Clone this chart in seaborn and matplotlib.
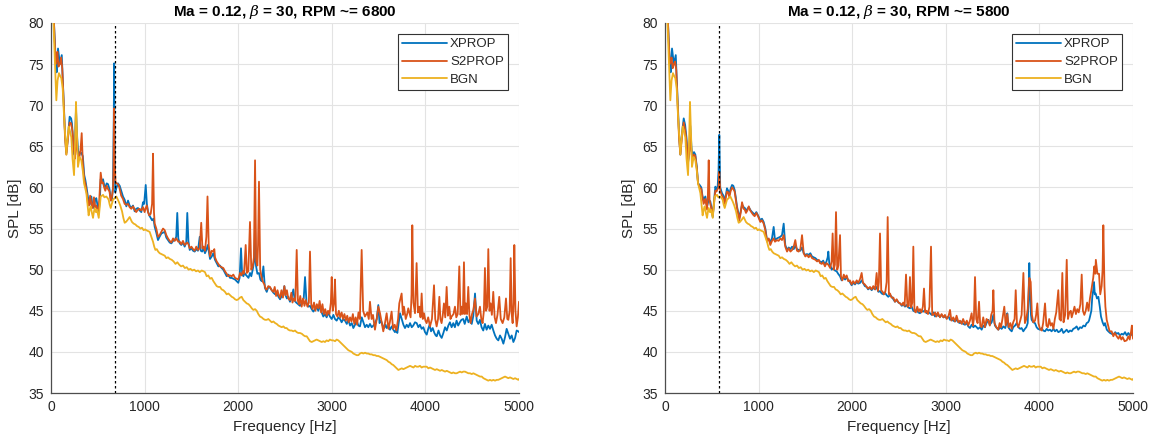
import matplotlib
matplotlib.use("Agg")
import matplotlib.pyplot as plt
import seaborn as sns
import pandas as pd

# ---------------- data ----------------
titles = ["Ma = 0.12, $\\beta$ = 30, RPM ~= 6800", "Ma = 0.12, $\\beta$ = 30, RPM ~= 5800"]
bpf_lines = [680, 580]
series_names = ["XPROP", "S2PROP", "BGN"]
xticks = [0, 1000, 2000, 3000, 4000, 5000]
yticks = [35, 40, 45, 50, 55, 60, 65, 70, 75, 80]

# background noise (same measurement in both panels)
bgn = [(0, 86), (25, 80.5), (40, 76), (57, 70.6), (70, 73.0), (85, 73.9), (100, 73.5), (110, 73.3),
       (125, 72.0), (140, 68.5), (164, 64.0), (178, 66.0), (189, 67.4), (200, 67.0), (217, 66.1),
       (230, 63.5), (246, 61.5), (255, 64.5), (267, 70.4), (278, 66.5), (288, 62.5), (306, 63.7),
       (324, 63.3), (340, 62.0), (353, 60.5), (378, 59.3), (390, 58.0), (402, 56.6), (413, 57.3),
       (424, 57.7), (437, 56.9), (449, 56.3), (458, 57.0), (467, 57.5), (480, 57.0), (491, 57.3),
       (500, 56.8), (510, 56.3), (520, 57.5), (531, 58.9), (545, 59.0), (556, 59.1), (570, 58.8),
       (591, 58.9), (605, 58.7), (616, 58.5), (627, 57.9), (638, 57.5), (650, 58.0), (662, 58.5),
       (680, 58.7), (698, 58.9), (710, 58.6), (723, 58.3), (740, 57.8), (759, 57.1), (773, 56.3),
       (787, 55.7), (800, 55.8), (815, 56.0), (828, 56.2), (840, 56.4), (852, 56.1), (865, 55.8),
       (883, 55.6), (901, 55.5), (919, 55.3), (937, 55.2), (955, 55.0), (972, 55.1), (990, 54.8),
       (1005, 54.9), (1018, 54.8), (1036, 54.7), (1054, 54.6), (1072, 54.0), (1090, 53.4),
       (1103, 52.8), (1115, 52.4), (1130, 52.5), (1145, 52.2), (1161, 52.0), (1180, 51.9),
       (1197, 51.8), (1215, 51.7), (1232, 51.4), (1250, 51.5), (1270, 51.3), (1290, 51.2),
       (1310, 51.0), (1330, 50.7), (1350, 50.9), (1370, 50.6), (1390, 50.4), (1410, 50.5),
       (1430, 50.2), (1450, 50.3), (1470, 50.0), (1490, 50.1), (1510, 49.9), (1530, 50.0),
       (1550, 49.8), (1570, 49.9), (1590, 49.7), (1610, 49.9), (1630, 49.8), (1645, 49.7),
       (1663, 49.2), (1680, 49.3), (1700, 48.9), (1717, 49.0), (1735, 48.6), (1752, 48.3),
       (1770, 48.0), (1788, 47.9), (1806, 47.9), (1823, 47.6), (1841, 47.5), (1859, 47.3),
       (1877, 47.0), (1895, 47.1), (1913, 46.9), (1931, 46.7), (1948, 46.6), (1966, 46.4),
       (1984, 46.3), (2001, 46.4), (2019, 46.6), (2037, 46.7), (2055, 46.3), (2073, 46.1),
       (2091, 45.9), (2110, 45.8), (2126, 45.6), (2145, 45.3), (2162, 45.1), (2180, 45.2),
       (2198, 45.0), (2215, 44.6), (2233, 44.3), (2251, 44.2), (2270, 44.0), (2287, 43.9),
       (2305, 43.9), (2322, 44.0), (2340, 43.8), (2358, 43.6), (2376, 43.7), (2395, 43.5),
       (2412, 43.4), (2430, 43.2), (2447, 43.1), (2465, 43.0), (2483, 43.1), (2500, 42.9),
       (2518, 42.9), (2535, 42.7), (2553, 42.6), (2571, 42.6), (2589, 42.5), (2607, 42.6),
       (2625, 42.4), (2642, 42.3), (2660, 42.3), (2680, 42.2), (2700, 42.0), (2715, 41.9),
       (2732, 41.9), (2750, 41.6), (2767, 41.3), (2785, 41.2), (2803, 41.3), (2820, 41.4),
       (2838, 41.5), (2856, 41.4), (2874, 41.3), (2892, 41.2), (2910, 41.3), (2927, 41.2),
       (2945, 41.4), (2963, 41.3), (2980, 41.5), (2999, 41.4), (3017, 41.4), (3035, 41.3),
       (3052, 41.5), (3070, 41.4), (3088, 41.2), (3105, 41.0), (3123, 40.8), (3141, 40.6),
       (3160, 40.4), (3177, 40.2), (3195, 40.1), (3213, 40.0), (3230, 39.8), (3248, 39.7),
       (3266, 39.6), (3284, 39.6), (3301, 39.8), (3320, 39.9), (3337, 39.8), (3355, 39.9),
       (3373, 39.8), (3390, 39.8), (3408, 39.7), (3426, 39.7), (3444, 39.6), (3462, 39.6),
       (3480, 39.5), (3497, 39.5), (3515, 39.4), (3533, 39.3), (3550, 39.2), (3568, 39.1),
       (3587, 39.0), (3605, 38.8), (3622, 38.7), (3640, 38.5), (3657, 38.4), (3675, 38.2),
       (3693, 38.0), (3711, 37.8), (3729, 37.9), (3747, 38.0), (3765, 37.9), (3782, 38.0),
       (3800, 38.1), (3818, 38.2), (3836, 38.3), (3854, 38.2), (3872, 38.1), (3890, 38.3),
       (3907, 38.2), (3924, 38.2), (3942, 38.3), (3960, 38.1), (3978, 38.2), (3996, 38.2),
       (4014, 38.2), (4032, 38.0), (4050, 38.1), (4068, 38.0), (4086, 37.9), (4103, 37.8),
       (4121, 37.9), (4140, 37.8), (4157, 37.7), (4174, 37.8), (4192, 37.7), (4210, 37.6),
       (4228, 37.7), (4245, 37.6), (4263, 37.5), (4281, 37.4), (4298, 37.5), (4316, 37.4),
       (4334, 37.4), (4352, 37.5), (4370, 37.6), (4388, 37.5), (4405, 37.6), (4423, 37.6),
       (4441, 37.5), (4459, 37.4), (4477, 37.4), (4495, 37.3), (4512, 37.4), (4530, 37.3),
       (4548, 37.2), (4565, 37.1), (4583, 37.0), (4602, 37.0), (4620, 36.8), (4637, 36.7),
       (4655, 36.6), (4672, 36.5), (4690, 36.6), (4708, 36.5), (4726, 36.6), (4744, 36.5),
       (4762, 36.6), (4779, 36.6), (4797, 36.7), (4815, 36.8), (4833, 36.9), (4851, 37.0),
       (4868, 36.9), (4886, 36.8), (4904, 36.9), (4922, 36.8), (4940, 36.7), (4958, 36.8),
       (4975, 36.7), (4993, 36.6), (5000, 36.7)]

# left panel, RPM ~ 6800
xprop_6800 = [(0, 86), (30, 80.5), (50, 75.5), (60, 74.0), (75, 76.9), (95, 75.0), (115, 76.1),
              (130, 72.0), (150, 66.5), (164, 64.2), (180, 66.0), (199, 68.6), (215, 68.4),
              (224, 67.8), (240, 65.0), (250, 64.0), (267, 69.5), (280, 66.0), (296, 63.5),
              (310, 64.3), (324, 64.2), (340, 63.8), (355, 61.5), (367, 60.9), (380, 60.0),
              (395, 58.8), (413, 57.9), (431, 58.9), (445, 57.6), (459, 57.5), (472, 58.5),
              (484, 58.7), (497, 57.8), (510, 57.0), (522, 58.5), (531, 61.0), (545, 60.6),
              (556, 61.0), (568, 60.3), (580, 60.0), (595, 60.5), (609, 60.4), (625, 59.8),
              (638, 58.6), (650, 58.4), (662, 60.0), (670, 68.0), (675, 75.1), (680, 66.0),
              (686, 59.4), (700, 60.0), (716, 60.5), (734, 60.2), (750, 59.6), (769, 58.9),
              (787, 58.5), (805, 57.7), (823, 58.4), (840, 57.8), (858, 57.5), (876, 57.8),
              (894, 57.1), (910, 57.4), (929, 57.5), (947, 57.2), (965, 57.0), (983, 58.2),
              (995, 58.0), (1012, 60.3), (1024, 58.0), (1036, 57.1), (1050, 56.6), (1065, 56.3),
              (1080, 56.0), (1095, 56.2), (1108, 55.2), (1125, 54.5), (1143, 53.6), (1160, 54.0),
              (1179, 54.4), (1197, 54.5), (1215, 54.6), (1232, 53.9), (1250, 53.6), (1268, 53.3),
              (1286, 53.2), (1304, 53.5), (1322, 53.6), (1338, 54.0), (1349, 56.9), (1360, 53.8),
              (1375, 53.2), (1392, 53.0), (1410, 53.3), (1428, 52.8), (1445, 53.3), (1456, 56.9),
              (1468, 53.5), (1482, 52.4), (1500, 52.6), (1518, 52.3), (1535, 52.2), (1552, 52.5),
              (1570, 52.3), (1589, 54.0), (1600, 52.3), (1615, 52.2), (1630, 52.6), (1645, 52.0),
              (1660, 52.4), (1675, 53.0), (1699, 51.3), (1717, 51.6), (1734, 52.0), (1752, 51.2),
              (1770, 50.8), (1788, 50.4), (1805, 50.5), (1823, 50.2), (1841, 50.0), (1859, 49.6),
              (1877, 49.2), (1895, 49.4), (1913, 49.0), (1931, 49.0), (1948, 48.9), (1966, 48.8),
              (1984, 48.6), (2001, 48.4), (2015, 49.0), (2030, 52.6), (2042, 49.5), (2055, 49.2),
              (2068, 49.6), (2080, 49.4), (2095, 49.2), (2110, 49.0), (2126, 49.6), (2140, 49.2),
              (2155, 50.0), (2170, 51.0), (2180, 55.3), (2190, 50.5), (2205, 49.5), (2222, 49.6),
              (2237, 48.8), (2251, 48.6), (2269, 50.4), (2285, 47.8), (2305, 47.3), (2322, 47.9),
              (2340, 47.8), (2358, 47.5), (2376, 47.2), (2395, 47.0), (2412, 47.2), (2430, 46.7),
              (2447, 46.4), (2465, 46.8), (2480, 47.2), (2493, 48.0), (2505, 46.9), (2520, 46.5),
              (2535, 46.7), (2553, 46.1), (2570, 46.5), (2589, 47.6), (2605, 46.2), (2620, 46.0),
              (2640, 45.8), (2660, 45.6), (2680, 46.0), (2700, 46.5), (2714, 49.1), (2730, 46.0),
              (2750, 45.5), (2767, 45.6), (2785, 45.2), (2803, 44.9), (2820, 45.2), (2838, 45.4),
              (2856, 45.0), (2874, 45.6), (2892, 44.8), (2909, 44.3), (2927, 44.6), (2945, 44.2),
              (2963, 44.8), (2980, 44.3), (2999, 44.0), (3017, 44.5), (3034, 44.0), (3052, 43.8),
              (3070, 44.2), (3088, 44.0), (3105, 43.6), (3123, 44.0), (3141, 43.8), (3160, 43.4),
              (3177, 43.9), (3195, 43.2), (3213, 43.5), (3230, 42.9), (3248, 43.3), (3266, 43.8),
              (3284, 43.2), (3301, 43.1), (3320, 44.2), (3337, 43.6), (3355, 43.0), (3373, 43.3),
              (3390, 43.0), (3408, 43.4), (3426, 43.0), (3444, 43.2), (3462, 43.5), (3480, 44.0),
              (3497, 45.7), (3510, 43.5), (3526, 43.8), (3544, 43.2), (3560, 42.9), (3575, 43.3),
              (3587, 42.9), (3605, 43.2), (3622, 42.7), (3640, 43.1), (3657, 42.7), (3675, 42.4),
              (3690, 42.8), (3700, 42.3), (3715, 43.5), (3729, 44.7), (3747, 44.0), (3765, 43.3),
              (3782, 42.9), (3800, 43.3), (3818, 43.0), (3836, 43.5), (3854, 43.0), (3870, 43.2),
              (3889, 43.6), (3907, 43.5), (3925, 43.0), (3942, 43.3), (3960, 42.8), (3978, 43.0),
              (3996, 42.4), (4014, 42.1), (4030, 42.8), (4045, 43.3), (4060, 42.5), (4078, 42.9),
              (4096, 42.3), (4110, 42.0), (4121, 41.9), (4140, 42.6), (4157, 42.0), (4174, 41.7),
              (4192, 42.3), (4210, 43.0), (4228, 42.6), (4245, 43.2), (4262, 43.6), (4280, 43.0),
              (4298, 43.5), (4315, 43.0), (4333, 43.8), (4350, 43.2), (4368, 43.6), (4385, 43.9),
              (4404, 44.0), (4420, 43.4), (4441, 44.3), (4460, 43.6), (4478, 44.0), (4495, 43.4),
              (4512, 44.4), (4530, 47.1), (4548, 43.8), (4565, 43.4), (4583, 43.9), (4600, 43.0),
              (4618, 42.6), (4636, 43.4), (4654, 42.7), (4672, 43.2), (4690, 42.8), (4708, 43.3),
              (4726, 42.6), (4744, 42.0), (4762, 41.6), (4779, 41.4), (4797, 42.0), (4815, 41.6),
              (4833, 41.0), (4851, 41.8), (4868, 42.8), (4886, 42.2), (4904, 41.6), (4922, 42.0),
              (4940, 41.2), (4958, 41.7), (4975, 42.6), (4993, 42.5), (5000, 42.4)]

s2prop_6800 = [(0, 86), (30, 80.5), (50, 75.0), (60, 75.5), (68, 76.5), (80, 74.7), (95, 75.0),
               (108, 75.8), (120, 74.5), (135, 70.5), (150, 66.0), (164, 64.0), (180, 65.8),
               (199, 67.9), (215, 67.8), (230, 66.8), (245, 64.5), (255, 63.5), (270, 66.0),
               (285, 64.0), (300, 63.6), (315, 64.5), (328, 66.6), (340, 63.0), (355, 61.0),
               (370, 60.3), (385, 59.0), (395, 58.0), (405, 57.8), (418, 59.0), (431, 58.0),
               (445, 57.5), (459, 58.8), (472, 57.6), (484, 57.8), (497, 57.2), (510, 57.3),
               (520, 59.5), (531, 61.8), (545, 60.5), (556, 60.6), (568, 60.0), (580, 59.6),
               (595, 60.2), (609, 59.8), (625, 59.5), (638, 58.4), (650, 58.8), (662, 59.8),
               (668, 62.0), (673, 69.6), (680, 63.0), (690, 60.5), (702, 60.5), (716, 60.4),
               (730, 60.0), (750, 59.0), (769, 58.6), (787, 58.0), (805, 57.9), (823, 58.0),
               (840, 57.6), (858, 57.4), (876, 57.7), (894, 57.3), (910, 57.0), (929, 57.3),
               (947, 57.4), (965, 57.2), (983, 57.6), (1000, 57.0), (1012, 57.5), (1024, 57.8),
               (1036, 57.0), (1050, 56.6), (1065, 56.8), (1080, 58.0), (1090, 64.1), (1100, 57.0),
               (1108, 55.6), (1125, 55.0), (1143, 54.0), (1160, 54.2), (1179, 54.6), (1197, 55.0),
               (1215, 54.8), (1232, 54.2), (1250, 53.8), (1268, 53.5), (1286, 53.3), (1304, 53.8),
               (1322, 53.5), (1338, 53.8), (1349, 53.6), (1360, 53.4), (1375, 53.4), (1392, 53.1),
               (1410, 53.5), (1428, 53.0), (1445, 53.2), (1456, 53.3), (1468, 53.1), (1482, 52.6),
               (1500, 52.8), (1518, 52.5), (1535, 52.3), (1552, 52.8), (1570, 52.4), (1589, 52.6),
               (1605, 55.7), (1618, 52.6), (1630, 52.8), (1645, 52.3), (1660, 54.0), (1672, 58.9),
               (1685, 53.0), (1699, 51.6), (1717, 52.3), (1734, 52.2), (1745, 52.5), (1752, 51.5),
               (1770, 51.0), (1788, 50.7), (1805, 50.4), (1823, 50.3), (1841, 50.2), (1859, 49.8),
               (1877, 49.5), (1895, 49.2), (1913, 49.3), (1931, 49.2), (1948, 49.4), (1966, 49.0),
               (1984, 48.9), (2001, 48.8), (2020, 49.6), (2035, 49.3), (2050, 49.8), (2062, 49.5),
               (2080, 53.0), (2092, 49.6), (2108, 49.8), (2126, 55.8), (2140, 50.0), (2155, 50.4),
               (2168, 51.5), (2180, 63.3), (2192, 51.0), (2205, 50.5), (2212, 53.0), (2222, 60.7),
               (2235, 50.0), (2251, 49.0), (2265, 48.5), (2280, 48.2), (2295, 47.6), (2305, 47.6),
               (2322, 48.0), (2340, 47.9), (2358, 47.5), (2376, 47.3), (2390, 47.9), (2405, 46.8),
               (2420, 47.5), (2433, 46.9), (2447, 46.6), (2462, 47.5), (2478, 46.6), (2493, 48.0),
               (2505, 46.9), (2520, 47.5), (2535, 46.5), (2553, 46.3), (2568, 47.2), (2580, 46.0),
               (2595, 46.5), (2610, 46.2), (2625, 52.4), (2638, 46.2), (2650, 45.8), (2663, 46.8),
               (2678, 45.5), (2693, 46.5), (2708, 45.6), (2722, 46.3), (2740, 45.5), (2755, 46.0),
               (2767, 52.2), (2780, 45.8), (2795, 45.2), (2810, 46.0), (2825, 45.0), (2840, 45.8),
               (2856, 45.3), (2870, 46.2), (2886, 44.8), (2900, 45.8), (2915, 44.6), (2930, 45.2),
               (2945, 44.4), (2960, 45.0), (2975, 44.6), (2990, 46.0), (2999, 49.1), (3010, 45.0),
               (3025, 46.0), (3034, 48.8), (3045, 44.6), (3060, 44.3), (3075, 45.0), (3090, 44.2),
               (3105, 44.8), (3120, 44.0), (3135, 44.6), (3150, 43.8), (3165, 44.4), (3180, 43.6),
               (3195, 44.2), (3210, 43.7), (3225, 44.6), (3240, 43.4), (3255, 44.2), (3270, 43.3),
               (3285, 44.8), (3300, 44.0), (3319, 52.4), (3335, 45.0), (3354, 44.3), (3380, 44.8),
               (3395, 44.0), (3408, 46.1), (3425, 44.0), (3440, 44.5), (3461, 42.7), (3480, 44.0),
               (3497, 45.5), (3515, 44.7), (3532, 43.6), (3550, 42.5), (3568, 43.5), (3586, 44.7),
               (3605, 42.8), (3620, 43.6), (3639, 44.9), (3655, 42.8), (3672, 43.3), (3690, 42.6),
               (3708, 44.0), (3721, 45.9), (3746, 47.1), (3760, 44.5), (3771, 45.5), (3790, 44.0),
               (3805, 44.6), (3817, 45.3), (3842, 44.2), (3852, 47.0), (3860, 55.4), (3872, 46.0),
               (3889, 44.7), (3906, 50.8), (3920, 44.8), (3935, 45.5), (3948, 44.2), (3960, 47.1),
               (3972, 44.0), (3985, 44.7), (4000, 43.8), (4013, 43.5), (4030, 44.2), (4049, 43.1),
               (4070, 44.0), (4092, 48.1), (4105, 44.0), (4120, 43.1), (4135, 44.0), (4149, 46.7),
               (4160, 44.0), (4173, 43.5), (4185, 44.4), (4198, 45.9), (4212, 44.2), (4227, 47.9),
               (4240, 44.4), (4255, 45.5), (4268, 44.0), (4280, 44.3), (4300, 44.6), (4316, 45.5),
               (4330, 44.2), (4345, 44.6), (4362, 50.4), (4375, 44.5), (4387, 45.5), (4400, 44.6),
               (4412, 50.9), (4422, 44.6), (4433, 45.9), (4445, 44.6), (4458, 47.9), (4470, 44.5),
               (4483, 43.5), (4498, 44.6), (4512, 45.1), (4530, 46.5), (4547, 44.3), (4565, 44.6),
               (4583, 45.5), (4597, 44.0), (4611, 43.5), (4625, 45.0), (4636, 50.2), (4648, 45.0),
               (4661, 45.5), (4672, 52.5), (4685, 45.0), (4697, 45.9), (4710, 44.5), (4725, 47.3),
               (4740, 44.2), (4754, 43.5), (4770, 44.5), (4789, 46.7), (4805, 44.0), (4825, 43.5),
               (4843, 44.2), (4861, 46.5), (4875, 44.0), (4886, 43.9), (4900, 45.0), (4911, 51.4),
               (4922, 44.6), (4932, 43.5), (4942, 46.0), (4950, 53.0), (4962, 45.0), (4975, 43.1),
               (4988, 44.2), (5000, 46.1)]

# right panel, RPM ~ 5800
xprop_5800 = [(0, 86), (30, 80.5), (50, 75.5), (60, 74.0), (75, 76.9), (95, 75.0), (115, 76.1),
              (130, 72.0), (150, 66.5), (164, 64.0), (180, 66.5), (200, 68.4), (215, 67.6),
              (230, 66.0), (246, 63.0), (260, 64.5), (270, 67.5), (285, 64.5), (296, 63.7),
              (310, 64.3), (324, 64.0), (340, 62.5), (353, 60.5), (370, 60.3), (388, 60.0),
              (400, 59.0), (413, 58.5), (431, 58.9), (449, 57.7), (467, 58.5), (484, 58.3),
              (497, 57.5), (510, 56.4), (525, 58.5), (538, 60.1), (550, 59.8), (562, 60.0),
              (572, 62.0), (580, 66.4), (590, 60.0), (609, 59.3), (625, 59.0), (638, 58.3),
              (650, 59.0), (662, 59.9), (675, 59.6), (687, 59.1), (700, 59.8), (716, 60.3),
              (730, 60.2), (744, 59.7), (756, 58.8), (769, 57.7), (782, 57.0), (794, 56.3),
              (810, 57.2), (823, 57.9), (840, 57.6), (853, 57.5), (865, 57.1), (880, 57.4),
              (895, 57.6), (910, 57.3), (922, 57.1), (940, 56.9), (958, 56.7), (976, 57.0),
              (994, 56.6), (1018, 56.0), (1036, 56.2), (1054, 55.8), (1072, 55.0), (1090, 53.6),
              (1108, 53.7), (1125, 53.4), (1143, 53.8), (1161, 55.2), (1175, 53.6), (1196, 53.8),
              (1214, 53.9), (1232, 54.0), (1250, 54.2), (1268, 55.6), (1285, 53.0), (1304, 52.4),
              (1322, 52.7), (1340, 52.5), (1358, 52.8), (1375, 52.5), (1392, 52.9), (1410, 52.5),
              (1428, 52.4), (1446, 52.3), (1464, 52.7), (1482, 52.0), (1499, 51.8), (1517, 51.9),
              (1535, 51.8), (1553, 52.0), (1571, 51.6), (1589, 51.5), (1607, 51.4), (1625, 51.2),
              (1643, 51.1), (1656, 51.0), (1675, 50.9), (1690, 51.1), (1709, 50.6), (1725, 51.0),
              (1738, 51.5), (1745, 52.2), (1755, 50.8), (1770, 50.4), (1781, 50.0), (1800, 50.2),
              (1815, 49.9), (1834, 49.8), (1850, 49.5), (1870, 49.2), (1887, 48.7), (1905, 49.0),
              (1925, 48.8), (1941, 49.1), (1958, 48.7), (1975, 48.5), (1994, 48.1), (2010, 48.4),
              (2030, 48.2), (2048, 48.5), (2065, 48.3), (2085, 48.4), (2101, 48.7), (2120, 48.3),
              (2135, 48.0), (2155, 47.9), (2170, 47.6), (2190, 47.8), (2208, 47.5), (2225, 47.8),
              (2245, 47.6), (2261, 47.9), (2280, 47.3), (2297, 47.4), (2315, 47.1), (2335, 47.0),
              (2350, 47.2), (2368, 46.9), (2385, 46.7), (2404, 46.9), (2422, 46.7), (2440, 46.4),
              (2457, 46.1), (2475, 46.3), (2495, 46.0), (2511, 45.9), (2530, 45.6), (2545, 45.8),
              (2564, 45.5), (2580, 45.7), (2600, 45.4), (2617, 45.3), (2635, 45.5), (2653, 45.0),
              (2671, 44.9), (2690, 45.2), (2705, 44.8), (2724, 44.7), (2740, 45.0), (2760, 44.9),
              (2778, 45.1), (2795, 44.7), (2810, 44.9), (2831, 44.7), (2850, 44.5), (2867, 44.8),
              (2885, 44.3), (2900, 44.6), (2920, 44.4), (2938, 44.3), (2955, 44.5), (2975, 44.2),
              (2991, 44.3), (3010, 44.1), (3030, 44.3), (3045, 43.9), (3060, 44.0), (3080, 43.8),
              (3098, 43.7), (3115, 43.9), (3135, 43.6), (3152, 43.5), (3170, 43.7), (3185, 43.4),
              (3205, 43.3), (3225, 43.5), (3240, 43.1), (3258, 42.9), (3276, 43.3), (3295, 43.0),
              (3312, 43.2), (3330, 43.0), (3345, 42.8), (3365, 43.0), (3383, 42.7), (3400, 43.2),
              (3418, 43.0), (3435, 43.5), (3454, 43.9), (3470, 43.3), (3490, 43.6), (3508, 44.5),
              (3525, 43.2), (3545, 42.9), (3561, 42.7), (3580, 43.0), (3597, 42.8), (3615, 43.1),
              (3635, 42.9), (3648, 43.5), (3657, 44.7), (3668, 43.0), (3686, 42.7), (3704, 42.5),
              (3720, 43.0), (3740, 43.2), (3757, 43.5), (3775, 43.0), (3795, 42.8), (3810, 42.9),
              (3828, 42.5), (3845, 42.8), (3860, 43.0), (3875, 43.5), (3885, 47.0), (3892, 50.8),
              (3900, 47.0), (3910, 44.5), (3917, 43.9), (3935, 43.6), (3953, 43.5), (3970, 43.0),
              (3985, 42.8), (4006, 42.7), (4025, 42.9), (4040, 42.6), (4060, 42.5), (4078, 42.8),
              (4095, 42.6), (4113, 42.7), (4130, 42.5), (4150, 42.8), (4167, 42.5), (4185, 42.7),
              (4202, 42.4), (4220, 42.5), (4238, 42.8), (4256, 42.3), (4275, 42.5), (4291, 42.7),
              (4310, 42.4), (4328, 42.6), (4345, 42.5), (4362, 42.8), (4380, 42.9), (4398, 43.1),
              (4415, 42.7), (4435, 43.0), (4452, 42.9), (4470, 43.2), (4488, 43.1), (4505, 43.5),
              (4520, 43.6), (4530, 43.8), (4541, 44.3), (4555, 45.0), (4565, 46.7), (4575, 47.5),
              (4583, 48.5), (4592, 47.0), (4601, 47.1), (4615, 46.5), (4630, 46.7), (4645, 45.5),
              (4658, 44.3), (4675, 43.6), (4690, 43.2), (4701, 43.5), (4720, 42.7), (4736, 42.5),
              (4755, 42.3), (4772, 42.2), (4790, 42.1), (4810, 42.4), (4825, 42.2), (4843, 42.3),
              (4860, 42.0), (4880, 42.2), (4897, 42.1), (4915, 42.4), (4933, 42.0), (4950, 42.3),
              (4970, 42.0), (4986, 42.1), (5000, 42.3)]

s2prop_5800 = [(0, 86), (30, 80.5), (50, 75.0), (60, 75.3), (70, 75.8), (82, 74.5), (95, 75.0),
               (108, 75.3), (120, 74.3), (135, 70.0), (150, 66.0), (164, 64.0), (180, 66.0),
               (200, 67.9), (215, 67.0), (230, 65.5), (246, 63.0), (260, 64.5), (270, 66.5),
               (285, 64.0), (296, 63.5), (310, 64.0), (324, 63.8), (340, 62.3), (353, 60.5),
               (370, 60.0), (388, 59.8), (400, 58.8), (413, 58.0), (431, 58.6), (449, 57.3),
               (458, 59.0), (467, 63.3), (476, 58.5), (484, 58.0), (497, 57.3), (510, 56.6),
               (525, 58.2), (538, 59.6), (550, 59.5), (562, 59.8), (572, 60.0), (580, 61.9),
               (590, 59.6), (609, 59.0), (625, 58.7), (638, 58.0), (650, 58.8), (662, 59.5),
               (675, 59.4), (687, 58.8), (700, 59.5), (716, 60.0), (730, 59.8), (744, 59.5),
               (756, 58.5), (769, 57.5), (782, 56.8), (794, 56.0), (810, 57.0), (823, 58.2),
               (840, 57.4), (853, 57.3), (865, 56.9), (880, 57.2), (895, 57.7), (910, 57.2),
               (922, 57.0), (940, 56.7), (958, 56.5), (976, 56.9), (994, 56.5), (1018, 55.8),
               (1036, 56.0), (1054, 55.6), (1072, 54.8), (1090, 53.4), (1108, 53.8), (1125, 53.0),
               (1143, 53.5), (1161, 53.8), (1175, 53.4), (1196, 53.6), (1214, 53.5), (1232, 53.8),
               (1250, 53.6), (1268, 54.2), (1285, 52.8), (1304, 52.2), (1322, 52.6), (1340, 52.2),
               (1358, 52.4), (1375, 52.8), (1392, 53.6), (1410, 52.3), (1428, 52.2), (1446, 52.5),
               (1464, 54.2), (1482, 52.0), (1499, 51.6), (1517, 51.8), (1535, 51.5), (1553, 51.8),
               (1571, 51.4), (1589, 51.3), (1607, 51.2), (1625, 51.0), (1643, 51.2), (1656, 50.8),
               (1675, 50.7), (1690, 50.9), (1709, 50.4), (1725, 50.8), (1745, 50.6), (1765, 50.2),
               (1780, 51.0), (1791, 54.4), (1802, 50.0), (1815, 50.6), (1827, 57.0), (1840, 50.0),
               (1852, 50.5), (1870, 54.2), (1880, 49.2), (1895, 48.7), (1910, 49.4), (1925, 49.0),
               (1941, 49.3), (1958, 48.6), (1975, 48.7), (1994, 48.2), (2010, 48.6), (2030, 48.3),
               (2048, 48.7), (2065, 48.4), (2085, 48.9), (2101, 49.6), (2115, 48.4), (2135, 48.2),
               (2155, 47.9), (2170, 47.7), (2190, 47.9), (2208, 47.6), (2225, 48.0), (2245, 47.6),
               (2261, 49.6), (2275, 47.4), (2285, 48.5), (2297, 54.4), (2310, 47.5), (2325, 47.3),
               (2340, 47.0), (2355, 47.4), (2368, 48.5), (2379, 56.4), (2392, 47.0), (2404, 47.1),
               (2420, 46.6), (2440, 46.6), (2457, 46.1), (2475, 46.4), (2495, 46.0), (2511, 45.9),
               (2530, 45.7), (2545, 46.0), (2560, 45.6), (2575, 49.4), (2590, 45.5), (2605, 45.6),
               (2617, 49.1), (2630, 45.4), (2642, 46.0), (2653, 52.8), (2665, 45.0), (2680, 44.8),
               (2695, 45.5), (2710, 44.9), (2724, 45.2), (2740, 44.8), (2755, 45.5), (2767, 47.7),
               (2780, 44.8), (2795, 45.0), (2810, 44.6), (2825, 45.5), (2842, 52.8), (2855, 44.5),
               (2867, 44.5), (2885, 44.8), (2900, 44.3), (2915, 44.8), (2938, 44.2), (2955, 44.6),
               (2975, 44.2), (2991, 44.5), (3010, 44.0), (3030, 44.4), (3045, 45.1), (3060, 43.8),
               (3080, 44.2), (3098, 43.7), (3115, 44.4), (3135, 43.6), (3152, 43.8), (3170, 43.4),
               (3185, 44.0), (3205, 43.4), (3225, 43.8), (3240, 43.2), (3258, 43.8), (3276, 44.7),
               (3290, 43.2), (3300, 44.0), (3312, 49.1), (3325, 44.0), (3340, 43.5), (3355, 46.1),
               (3368, 43.2), (3383, 43.0), (3400, 44.2), (3418, 43.0), (3435, 44.0), (3454, 43.8),
               (3470, 43.2), (3485, 44.5), (3500, 45.0), (3508, 47.5), (3520, 43.5), (3540, 43.0),
               (3561, 42.7), (3575, 43.5), (3590, 43.0), (3605, 44.0), (3625, 45.5), (3640, 43.2),
               (3657, 44.6), (3672, 43.0), (3690, 43.5), (3704, 42.8), (3720, 43.6), (3735, 44.0),
               (3747, 47.5), (3760, 43.5), (3775, 43.0), (3795, 43.8), (3810, 44.5), (3829, 49.6),
               (3845, 43.5), (3860, 44.0), (3875, 45.2), (3892, 49.0), (3907, 48.5), (3920, 44.5),
               (3935, 43.6), (3953, 43.8), (3965, 44.5), (3978, 45.9), (3990, 43.5), (4006, 42.8),
               (4025, 42.6), (4040, 43.5), (4060, 45.9), (4075, 43.2), (4090, 43.0), (4105, 44.0),
               (4120, 43.2), (4135, 43.5), (4150, 42.8), (4165, 44.0), (4180, 44.8), (4202, 47.5),
               (4215, 44.0), (4230, 43.8), (4245, 49.6), (4258, 43.6), (4275, 44.5), (4292, 51.2),
               (4305, 44.0), (4320, 44.8), (4335, 45.0), (4345, 44.2), (4360, 44.8), (4375, 45.5),
               (4390, 44.6), (4405, 45.2), (4420, 44.8), (4438, 45.8), (4452, 49.4), (4465, 45.0),
               (4480, 44.5), (4495, 45.0), (4510, 46.0), (4525, 45.0), (4540, 46.5), (4555, 47.5),
               (4575, 49.0), (4587, 50.4), (4597, 49.5), (4603, 51.2), (4620, 49.5), (4637, 49.5),
               (4650, 47.0), (4665, 48.0), (4675, 50.0), (4683, 55.4), (4695, 48.0), (4705, 45.5),
               (4719, 43.9), (4735, 43.2), (4750, 42.5), (4772, 42.5), (4790, 41.9), (4805, 42.3),
               (4826, 41.9), (4845, 41.6), (4860, 42.0), (4875, 41.5), (4890, 41.8), (4910, 41.3),
               (4933, 41.4), (4950, 41.9), (4965, 41.5), (4980, 42.5), (4988, 43.2), (5000, 41.6)]

panels = [[xprop_6800, s2prop_6800, bgn], [xprop_5800, s2prop_5800, bgn]]
colors = ["#0072BD", "#D95319", "#EDB120"]

# ---------------- style ----------------
sns.set_theme(style="white")
plt.rcParams["font.family"] = ["Liberation Sans", "DejaVu Sans"]
plt.rcParams["mathtext.fontset"] = "dejavuserif"

fig = plt.figure(figsize=(11.54, 4.44), dpi=100)
axes_pos = [[51 / 1154, 51 / 444, 468 / 1154, 370 / 444],
            [665 / 1154, 51 / 444, 468 / 1154, 370 / 444]]

for i, pos in enumerate(axes_pos):
    ax = fig.add_axes(pos)
    frames = []
    for name, pts in zip(series_names, panels[i]):
        df = pd.DataFrame(pts, columns=["Frequency", "SPL"])
        df["series"] = name
        frames.append(df)
    data = pd.concat(frames, ignore_index=True)
    sns.lineplot(data=data, x="Frequency", y="SPL", hue="series", hue_order=series_names,
                 palette=colors, estimator=None, sort=False, linewidth=1.3, ax=ax, legend=False)
    ax.axvline(bpf_lines[i], color="black", linestyle=(0, (2, 2)), linewidth=0.9, zorder=5)

    ax.set_xlim(0, 5000)
    ax.set_ylim(35, 80)
    ax.set_xticks(xticks)
    ax.set_yticks(yticks)
    ax.grid(True, color="#e3e3e3", linewidth=0.8)
    ax.set_axisbelow(True)
    for side in ["top", "right"]:
        ax.spines[side].set_visible(False)
    for side in ["left", "bottom"]:
        ax.spines[side].set_color("#4d4d4d")
        ax.spines[side].set_linewidth(0.9)
    ax.tick_params(axis="both", direction="in", length=3.5, width=0.8, color="#4d4d4d",
                   labelsize=10, labelcolor="#262626", pad=5)
    ax.set_xlabel("Frequency [Hz]", fontsize=11, color="#262626", labelpad=4)
    ax.set_ylabel("SPL [dB]", fontsize=11, color="#262626", labelpad=5)
    ax.set_title(titles[i], fontsize=11, fontweight="bold", color="black", pad=5)

    handles = [plt.Line2D([], [], color=c, linewidth=1.3) for c in colors]
    leg = ax.legend(handles, series_names, loc="upper right", fontsize=9.5,
                    handlelength=3.4, handletextpad=0.25, borderpad=0.3, labelspacing=0.42,
                    borderaxespad=0.85, fancybox=False, framealpha=1.0, edgecolor="#333333")
    leg.get_frame().set_linewidth(0.8)
    for t in leg.get_texts():
        t.set_color("#262626")

fig.savefig("out.png", dpi=100)
